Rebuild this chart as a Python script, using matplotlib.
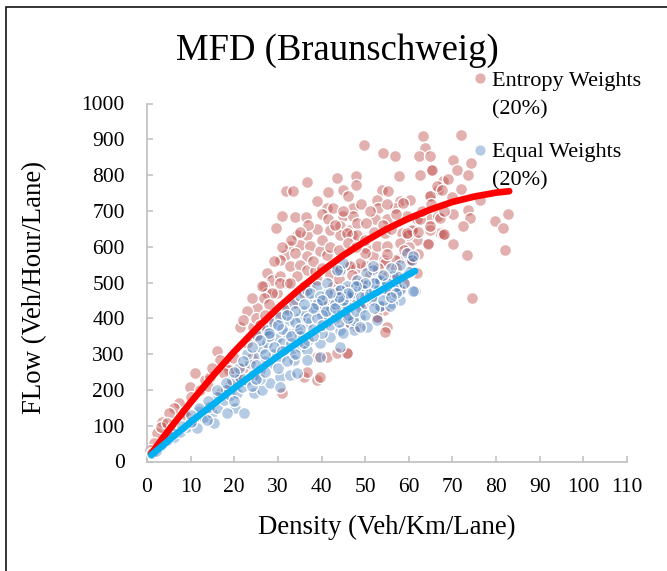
import matplotlib
matplotlib.use("Agg")
import matplotlib.pyplot as plt
from matplotlib.lines import Line2D
from matplotlib.patches import Rectangle

plt.rcParams['font.family'] = ['Liberation Serif', 'DejaVu Serif']

# ---- data ----
entropy_pts = [
    (63.2,910),(49.7,884),(54.0,862),(56.9,853),(63.8,875),(62.3,853),(64.9,853),(57.8,797),(62.6,801),(65.0,813),
    (48.0,797),(43.5,792),(36.7,780),(31.9,755),(33.4,755),(41.5,752),(45.0,759),(53.8,759),(55.3,755),(48.0,773),
    (38.9,727),(46.1,741),(52.6,731),(58.0,727),(60.3,731),(64.8,745),(66.8,759),(41.2,708),(42.7,708),(47.3,708),
    (53.0,708),(56.8,708),(30.9,685),(33.9,683),(36.4,683),(40.0,690),(45.0,685),(47.3,685),(52.2,676),(54.9,676),
    (59.5,685),(61.8,676),(64.9,676),(66.7,685),(29.6,652),(34.3,634),(36.7,634),(41.5,676),(41.9,648),(44.2,657),
    (46.5,648),(48.1,666),(50.3,666),(44.2,634),(46.9,634),(54.5,638),(58.4,638),(60.7,643),(64.5,610),(61.8,620),
    (32.8,601),(35.1,606),(37.4,601),(39.6,587),(41.2,578),(31.6,578),(33.9,582),(36.6,573),(50.3,596),(51.9,573),
    (54.2,564),(58.0,568),(60.3,568),(30.5,564),(32.8,545),(35.1,550),(36.6,536),(38.5,531),(42.7,545),(44.2,536),
    (46.1,545),(48.0,540),(50.3,545),(27.4,526),(28.6,508),(30.5,517),(26.7,489),(27.4,470),(29.7,470),(32.0,498),
    (34.3,517),(37.4,489),(38.9,508),(42.7,489),(45.8,480),(48.8,484),(54.5,517),(57.2,512),(60.3,554),(61.8,526),
    (67.1,638),(64.8,648),
    (71.9,913),(70.2,843),(74.2,834),(71.1,815),(73.6,801),(65.2,815),(67.9,783),(66.4,769),(67.5,759),(64.8,741),
    (58.7,722),(76.3,731),(73.6,703),(74.0,680),(70.2,690),(67.1,680),(82.8,692),(79.7,671),(81.6,652),(72.5,657),
    (64.8,657),(62.6,676),(67.9,634),(60.7,648),(59.9,634),(64.5,608),(70.2,608),(73.3,578),(82.0,590),(74.4,457),
    (68.1,636),(59.5,638),(60.3,564),(56.8,564),(54.5,554),(54.9,377),(54.5,363),(53.0,405),(45.8,303),(54.2,424),
    (52.6,601),(54.9,601),(48.1,634),(45.8,638),(48.8,554),(46.5,545),(50.0,582),
    (26.4,489),(28.6,470),(30.5,498),(25.2,428),(32.8,498),(35.9,489),(24.4,377),(26.7,368),(16.0,310),(16.8,284),
    (18.3,270),(11.1,247),(9.9,209),(12.2,200),(13.4,228),(7.3,163),(6.1,149),(5.0,135),(3.4,111),(2.3,79),
    (3.1,97),(1.5,51),(0.8,32),(20.6,247),(18.7,256),(30.9,191),(39.0,228),(39.7,237),(35.9,237),(36.7,251),
    (39.0,293),(41.2,293),(43.5,303),(45.8,303),(45.8,387),(48.1,377),(52.7,405),(24.1,456),(26.7,456),(21.4,377),
    (14.5,237),(17.6,247),(8.4,139),(9.2,125),(4.6,107),(5.7,93),
    (23.0,420),(25.0,400),(28.0,440),(22.0,395),(27.0,410),(19.0,215),(22.0,260),(24.0,290),(17.0,190),(21.0,230),
    (38,560),(40,620),(42,600),(44,590),(46,610),(48,600),(50,620),(52,640),(54,660),(56,650),
    (58,610),(60,600),(62,640),(43,660),(45,700),(49,720),(51,700),(55,720),(57,690),(39,650),
    (37,660),(35,640),(33,620),(31,600),(29,560),(40,540),(42,520),(44,510),(47,520),(49,500),
    (51,520),(53,540),(55,580),(57,540),(59,590),(62,580),(63,700),(65,720),(68,700),(70,740),
    (72,760),(69,790),(36,470),(34,440),(32,430),(30,410),(28,390),(26,380),(41,450),(43,470),
    (47,460),(50,440),(56,470),(59,500),(25,350),(23,330),(20,290),(15,260),(14,210),(10,180),
]
equal_pts = [
    (1.1,23),(3.1,46),(4.6,60),(6.1,69),(7.6,83),(9.2,97),(10.7,116),(11.5,93),(13.0,125),(14.9,135),
    (14.1,153),(16.0,149),(17.6,172),(19.1,186),(20.2,149),(22.2,135),(20.6,191),(21.8,209),(22.9,228),(24.4,242),
    (26.0,256),(19.5,228),(21.4,237),(23.7,275),(25.2,298),(26.4,317),(24.5,191),(26.4,200),(28.3,219),(30.5,237),
    (32.8,242),(34.4,247),(28.3,275),(30.5,293),(32.8,303),(35.1,321),(27.5,331),(29.8,345),(32.1,359),(34.4,368),
    (36.7,387),(32.5,396),(35.1,405),(38.2,419),(40.5,433),(42.8,452),(36.7,312),(39.7,331),(42.0,349),(44.3,368),
    (46.6,387),(48.9,405),(33.6,284),(36.7,284),(39.7,293),(38.2,452),(41.2,470),(44.3,480),(47.4,489),(50.4,494),
    (53.5,503),(45.8,424),(48.9,442),(51.9,461),(53.5,433),(47.4,368),(50.4,377),(52.7,396),(15.3,107),(18.3,135),
    (13.7,116),(30.5,209),(25.2,354),(27.5,368),(29.0,387),(30.5,405),(32.1,424),(33.6,442),(35.1,461),(36.7,480),
    (39.0,489),(41.2,498),
    (59.5,582),(60.7,564),(61.4,475),(58.0,484),(58.0,452),(56.1,442),(56.4,517),(51.9,536),(50.3,526),(52.6,508),
    (54.2,489),(54.9,470),(48.1,508),(49.6,480),(51.9,452),(53.4,433),(55.7,433),(45.8,489),(47.3,461),(45.0,442),
    (44.2,415),(45.8,433),(47.3,396),(48.8,377),(45.0,359),(44.2,321),(44.2,536),(45.0,554),
    (61.0,573),(57.2,517),(61.0,475),(58.0,480),(51.9,545),(53.4,508),(43.5,536),(44.2,480),(45.8,461),(37.4,470),
    (39.6,461),
    (37,340),(40,360),(41,390),(43,400),(38,370),(42,420),(35,350),(31,330),(29,300),(27,280),
    (33,330),(40,410),(46,410),(49,430),(50,460),(52,480),(55,500),(57,490),(43,440),(39,440),
    (36,420),(34,390),(31,370),(28,350),(23,300),(21,260),(18,200),(16,180),(12,140),(8,100),
    (6,80),(2,30),(5,70),(10,110),(26,230),(24,210),(20,170),
    (25,270),(27,300),(29,320),(31,310),(33,350),(35,370),(37,400),(39,400),(41,420),(43,430),
    (45,450),(47,470),(49,460),(51,470),(53,480),(55,480),(57,470),(59,500),(60,530),(58,550),
    (56,540),(54,520),(52,500),(50,500),(48,490),(46,470),(44,460),(42,470),(40,450),(38,430),
    (36,440),(34,420),(32,410),(30,380),(28,360),(26,340),(24,320),(22,280),(20,250),(18,220),
    (16,200),(14,170),(12,150),(10,130),(30,260),(32,280),(34,300),(36,330),(38,350),(40,380),
    (42,380),(44,390),(46,400),(48,420),(50,410),(52,430),(54,450),(56,460),(25,230),(27,250),
]
entropy_x = [p[0] for p in entropy_pts]
entropy_y = [p[1] for p in entropy_pts]
equal_x = [p[0] for p in equal_pts]
equal_y = [p[1] for p in equal_pts]

# trend curves
entropy_trend_x = [1, 2, 5, 10, 15, 20, 25, 30, 35, 40, 45, 50, 55, 60, 65, 70, 75, 80, 83]
entropy_trend_y = [22, 39, 88, 165, 238, 307, 370, 429, 482, 531, 576, 615, 650, 679, 704, 725, 740, 751, 755]
equal_trend_x = [1, 5, 10, 15, 20, 25, 30, 35, 40, 45, 50, 55, 60, 61.4]
equal_trend_y = [18, 59, 110, 158, 205, 250, 294, 336, 376, 415, 453, 488, 523, 532]

x_ticks = list(range(0, 111, 10))
y_ticks = list(range(0, 1001, 100))

title = "MFD (Braunschweig)"
x_label = "Density (Veh/Km/Lane)"
y_label = "FLow (Veh/Hour/Lane)"
series_names = ["Entropy Weights", "Equal Weights"]
series_note = "(20%)"

# ---- styling ----
W, H = 667, 571
fig = plt.figure(figsize=(W / 100, H / 100), dpi=100)
ax = fig.add_axes([147 / W, 1 - 461.5 / H, 480 / W, 358 / H])

red_face = (192 / 255, 80 / 255, 77 / 255, 0.45)
blue_face = (79 / 255, 129 / 255, 189 / 255, 0.42)

ax.scatter(entropy_x, entropy_y, s=75, facecolor=red_face, edgecolor='white', linewidths=1.0, zorder=2, clip_on=False)
ax.scatter(equal_x, equal_y, s=75, facecolor=blue_face, edgecolor='white', linewidths=1.0, zorder=3, clip_on=False)
ax.plot(entropy_trend_x, entropy_trend_y, color='#FF0000', lw=4.8, solid_capstyle='round', zorder=4, clip_on=False)
ax.plot(equal_trend_x, equal_trend_y, color='#00B0F0', lw=4.8, solid_capstyle='round', zorder=5, clip_on=False)

ax.set_xlim(0, 110)
ax.set_ylim(0, 1000)
ax.set_xticks(x_ticks)
ax.set_yticks(y_ticks)
for s in ['top', 'right']:
    ax.spines[s].set_visible(False)
for s in ['left', 'bottom']:
    ax.spines[s].set_color('#BFBFBF')
    ax.spines[s].set_linewidth(1.2)
ax.tick_params(axis='both', direction='in', length=4, width=1.1, color='#BFBFBF', labelsize=15.5, labelcolor='black')
ax.tick_params(axis='x', pad=12)
ax.tick_params(axis='y', pad=16)
ax.patch.set_alpha(0)

fig.text(0.506, 1 - 60 / H, title, ha='center', va='baseline', fontsize=26.4)
fig.text(387 / W, 1 - 527 / H, x_label, ha='center', va='center', fontsize=19.3)
fig.text(35 / W, 1 - 287 / H, y_label, ha='center', va='center', rotation=90, fontsize=19.3)

# legend (manual)
legend_rows = [(78.3, 85.7, 114.3, red_face), (150.0, 157.3, 185.7, blue_face)]
for (my, b1, b2, col), name in zip(legend_rows, series_names):
    fig.add_artist(Line2D([480 / W], [1 - my / H], marker='o', markersize=8, linestyle='none',
                          markerfacecolor=col, markeredgecolor='white', markeredgewidth=0.6,
                          transform=fig.transFigure))
    fig.text(491.7 / W, 1 - b1 / H, name, ha='left', va='baseline', fontsize=16)
    fig.text(491.7 / W, 1 - b2 / H, series_note, ha='left', va='baseline', fontsize=16)

fig.add_artist(Rectangle((5.5 / W, -0.05), 1.2, 1 - 7.5 / H + 0.05, transform=fig.transFigure,
                         fill=False, edgecolor='black', linewidth=1.1))

fig.savefig("out.png", dpi=100)
